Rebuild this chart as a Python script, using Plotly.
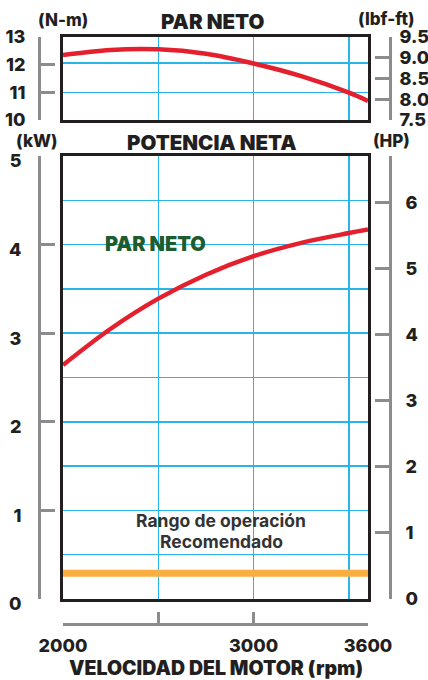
import plotly.graph_objects as go

# ---- data ----
rpm = [2000, 2250, 2500, 2750, 3000, 3250, 3500, 3600]
torque_nm = [12.28, 12.45, 12.47, 12.32, 11.99, 11.56, 11.0, 10.72]
power_kw = [2.64, 3.05, 3.39, 3.66, 3.87, 4.02, 4.13, 4.17]
band_rpm = [2000, 3600]
band_kw = [0.29, 0.29]

kw_ticks = [0, 1, 2, 3, 4, 5]
hp_ticks = [0, 1, 2, 3, 4, 5, 6]
nm_ticks = [10, 11, 12, 13]
lbf_ticks = [7.5, 8.0, 8.5, 9.0, 9.5]
rpm_ticks = [2000, 2500, 3000, 3600]
rpm_labels = ["2000", "", "3000", "3600"]

W, H = 428, 680
def px(x):
    return x / W
def py(y):
    return 1 - y / H

GRID = "#29B5E8"
FRAME = "#231F20"
GRAY = "#8C8C8E"
RED = "#E5202E"
ORANGE = "#F9AE3F"
GREEN = "#1E5C30"
FONT = "Inter"
WT = 800

xdom = [px(63), px(368)]
bot_dom = [py(599), py(156)]
top_dom = [py(120), py(37)]

fig = go.Figure()

# power curve (bottom panel)
fig.add_trace(go.Scatter(x=rpm, y=power_kw, mode="lines",
                         line=dict(color=RED, width=4.5, shape="spline", smoothing=1.0),
                         xaxis="x", yaxis="y", hoverinfo="skip", showlegend=False))
# operating range band
fig.add_trace(go.Scatter(x=band_rpm, y=band_kw, mode="lines", line=dict(color=ORANGE, width=7),
                         xaxis="x", yaxis="y", hoverinfo="skip", showlegend=False))
# torque curve (top panel)
fig.add_trace(go.Scatter(x=rpm, y=torque_nm, mode="lines",
                         line=dict(color=RED, width=4.5, shape="spline", smoothing=1.0),
                         xaxis="x2", yaxis="y2", hoverinfo="skip", showlegend=False))

# invisible traces to activate bracket axes
for xa, ya in [("x3", "y"), ("x", "y3"), ("x", "y4"), ("x2", "y5"), ("x2", "y6")]:
    fig.add_trace(go.Scatter(x=band_rpm, y=[None, None], mode="lines", xaxis=xa, yaxis=ya,
                             hoverinfo="skip", showlegend=False, line=dict(width=0)))

tickfont = dict(family=FONT, size=18, color=FRAME, weight=WT)

def frame_axis(**kw):
    d = dict(showline=True, mirror=True, linewidth=3, linecolor=FRAME, showgrid=True,
             gridcolor=GRID, gridwidth=1.5, zeroline=False, ticks="", showticklabels=False,
             fixedrange=True, automargin=False)
    d.update(kw)
    return d

def bracket_axis(**kw):
    d = dict(showline=True, linewidth=3, linecolor=GRAY, ticks="inside", ticklen=14, tickwidth=3,
             tickcolor=GRAY, showgrid=False, zeroline=False, tickfont=tickfont, anchor="free",
             fixedrange=True, automargin=False)
    d.update(kw)
    return d

hp_max = 5 / 0.7457

fig.update_layout(
    width=W, height=H, margin=dict(l=0, r=0, t=0, b=0, autoexpand=False),
    paper_bgcolor="white", plot_bgcolor="white", showlegend=False,
    xaxis=frame_axis(domain=xdom, range=[2000, 3600], tickvals=[2500, 3000, 3500], anchor="y"),
    yaxis=frame_axis(domain=bot_dom, range=[0, 5], tick0=0, dtick=0.5, anchor="x"),
    xaxis2=frame_axis(domain=xdom, range=[2000, 3600], tickvals=[2500, 3000, 3500], anchor="y2"),
    yaxis2=frame_axis(domain=top_dom, range=[10.07, 12.89], tickvals=[11, 12], anchor="x2"),
    xaxis3=bracket_axis(overlaying="x", range=[2000, 3600], position=py(624), side="bottom",
                        tickvals=rpm_ticks, ticktext=rpm_labels, ticklen=11, ticklabelstandoff=4),
    yaxis3=bracket_axis(overlaying="y", range=[0, 5], position=px(39), side="left",
                        tickvals=kw_ticks, ticklabelstandoff=13, ticklabelshift=5),
    yaxis4=bracket_axis(overlaying="y", range=[0, hp_max], position=px(390), side="right",
                        tickvals=hp_ticks, ticklabelstandoff=10),
    yaxis5=bracket_axis(overlaying="y2", range=[10, 13], position=px(39), side="left",
                        tickvals=nm_ticks, ticklabelstandoff=9),
    yaxis6=bracket_axis(overlaying="y2", range=[7.5, 9.5], position=px(390), side="right",
                        tickvals=lbf_ticks, tickformat=".1f", ticklabelstandoff=4),
)

def note(text, x, y, size, color=FRAME, weight=WT):
    fig.add_annotation(text=text, x=px(x), y=py(y), xref="paper", yref="paper",
                       xanchor="center", yanchor="middle", showarrow=False,
                       font=dict(family=FONT, size=size, color=color, weight=weight))

note("PAR NETO", 212, 21, 20.5, weight=900)
note("(N-m)", 63, 20, 17)
note("(lbf-ft)", 386, 19, 17)
note("POTENCIA NETA", 212, 142, 20.5, weight=900)
note("(kW)", 37, 141, 17)
note("(HP)", 391, 141, 17)
note("PAR NETO", 155, 244, 20, GREEN, weight=900)
note("Rango de operación", 221, 520, 17.5, "#333333", weight=700)
note("Recomendado", 221, 541, 17.5, "#333333", weight=700)
note("VELOCIDAD DEL MOTOR (rpm)", 216, 668, 19.5, weight=900)

fig.write_html("out.html", config={"displayModeBar": False, "staticPlot": True},
               post_script="document.body.style.margin='0';document.body.style.overflow='hidden';")
